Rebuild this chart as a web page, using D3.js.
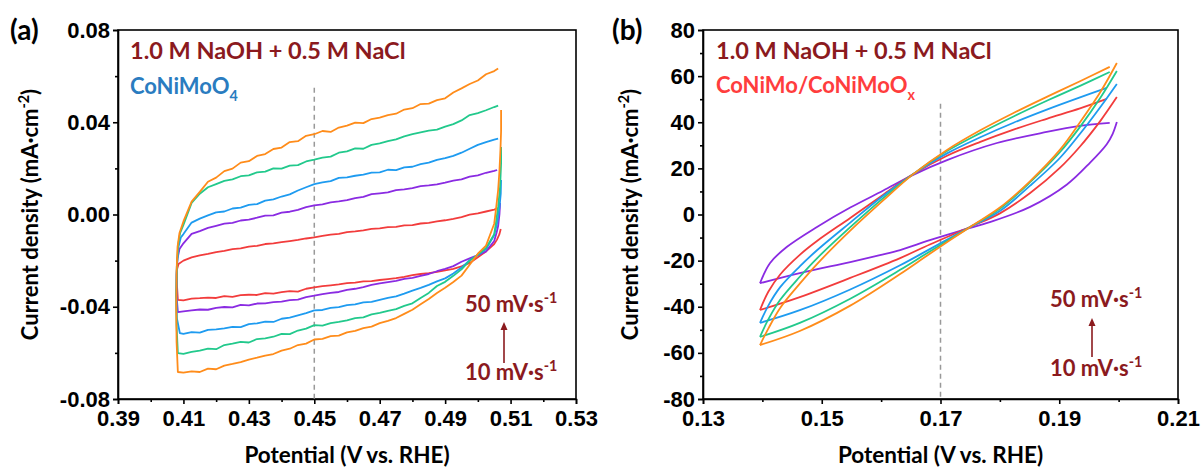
<!DOCTYPE html>
<html lang="en">
<head>
<meta charset="UTF-8">
<title>CV curves</title>
<script src="https://cdn.jsdelivr.net/npm/d3@7"></script>
<style>
  body { margin: 0; background: #fff; }
  svg { display: block; }
  .axis path, .axis line { stroke: #000; stroke-width: 1.6; }
  .axis text { font-family: "Liberation Sans", Arial, sans-serif; font-weight: bold; font-size: 22px; fill: #000; }
  .lbl { font-family: Lato, "Open Sans", sans-serif; font-weight: bold; }
</style>
</head>
<body>
<svg id="chart" width="1203" height="470"></svg>
<script>
// ---------- panel (a): CoNiMoO4, scan rates 10..50 mV/s ----------
const ratesA = ["10", "20", "30", "40", "50"];
const colorsA = ["#f23c3c", "#8a2be2", "#1e9bf0", "#22c98c", "#ff8c1a"];

const potA = [0.4100, 0.4125, 0.4150, 0.4175, 0.4200, 0.4225, 0.4250, 0.4275, 0.4300, 0.4325,
  0.4350, 0.4375, 0.4400, 0.4425, 0.4450, 0.4475, 0.4500, 0.4525, 0.4550, 0.4575,
  0.4600, 0.4625, 0.4650, 0.4675, 0.4700, 0.4725, 0.4750, 0.4775, 0.4800, 0.4825,
  0.4850, 0.4875, 0.4900, 0.4925, 0.4950, 0.4975, 0.5000, 0.5025, 0.5050];

// anodic (upper) branch on potA
const upperA = [
  [-0.0200, -0.0186, -0.0177, -0.0171, -0.0163, -0.0158, -0.0150, -0.0147, -0.0139, -0.0136,
   -0.0128, -0.0125, -0.0120, -0.0115, -0.0110, -0.0104, -0.0099, -0.0093, -0.0087, -0.0084,
   -0.0076, -0.0073, -0.0069, -0.0062, -0.0060, -0.0055, -0.0054, -0.0047, -0.0046, -0.0039,
   -0.0036, -0.0030, -0.0025, -0.0019, -0.0011, -0.0001, 0.0005, 0.0013, 0.0021],
  [-0.0125, -0.0084, -0.0072, -0.0058, -0.0049, -0.0040, -0.0036, -0.0026, -0.0022, -0.0014,
   -0.0005, -0.0004, 0.0008, 0.0012, 0.0020, 0.0032, 0.0040, 0.0044, 0.0053, 0.0057,
   0.0062, 0.0071, 0.0076, 0.0088, 0.0092, 0.0096, 0.0106, 0.0109, 0.0114, 0.0123,
   0.0126, 0.0131, 0.0138, 0.0147, 0.0152, 0.0164, 0.0170, 0.0181, 0.0189],
  [-0.0085, -0.0035, -0.0018, -0.0004, 0.0009, 0.0013, 0.0026, 0.0030, 0.0042, 0.0045,
   0.0060, 0.0066, 0.0078, 0.0087, 0.0104, 0.0118, 0.0132, 0.0139, 0.0145, 0.0159,
   0.0161, 0.0168, 0.0173, 0.0182, 0.0183, 0.0194, 0.0192, 0.0204, 0.0207, 0.0218,
   0.0225, 0.0237, 0.0244, 0.0254, 0.0268, 0.0285, 0.0302, 0.0314, 0.0325],
  [-0.0045, 0.0050, 0.0090, 0.0118, 0.0132, 0.0146, 0.0152, 0.0166, 0.0170, 0.0183,
   0.0186, 0.0200, 0.0199, 0.0212, 0.0214, 0.0230, 0.0238, 0.0247, 0.0251, 0.0268,
   0.0274, 0.0287, 0.0285, 0.0302, 0.0308, 0.0318, 0.0326, 0.0339, 0.0348, 0.0356,
   0.0364, 0.0368, 0.0381, 0.0392, 0.0408, 0.0431, 0.0440, 0.0452, 0.0466],
  [-0.0030, 0.0056, 0.0098, 0.0142, 0.0160, 0.0188, 0.0199, 0.0225, 0.0231, 0.0254,
   0.0262, 0.0284, 0.0290, 0.0314, 0.0318, 0.0341, 0.0348, 0.0362, 0.0358, 0.0377,
   0.0385, 0.0398, 0.0396, 0.0414, 0.0420, 0.0431, 0.0437, 0.0455, 0.0461, 0.0479,
   0.0481, 0.0496, 0.0504, 0.0529, 0.0547, 0.0566, 0.0581, 0.0608, 0.0622]
];

// cathodic (lower) branch on potA
const lowerA = [
  [-0.0372, -0.0365, -0.0363, -0.0360, -0.0362, -0.0354, -0.0357, -0.0350, -0.0348, -0.0349,
   -0.0341, -0.0343, -0.0337, -0.0332, -0.0334, -0.0322, -0.0316, -0.0311, -0.0307, -0.0303,
   -0.0298, -0.0295, -0.0290, -0.0289, -0.0284, -0.0280, -0.0276, -0.0270, -0.0263, -0.0258,
   -0.0254, -0.0249, -0.0242, -0.0236, -0.0225, -0.0210, -0.0185, -0.0160, -0.0128],
  [-0.0420, -0.0416, -0.0412, -0.0413, -0.0405, -0.0401, -0.0403, -0.0392, -0.0394, -0.0386,
   -0.0385, -0.0380, -0.0378, -0.0371, -0.0369, -0.0358, -0.0352, -0.0345, -0.0340, -0.0336,
   -0.0327, -0.0322, -0.0315, -0.0305, -0.0299, -0.0293, -0.0288, -0.0279, -0.0275, -0.0266,
   -0.0258, -0.0246, -0.0236, -0.0224, -0.0205, -0.0190, -0.0176, -0.0160, -0.0115],
  [-0.0518, -0.0510, -0.0512, -0.0500, -0.0498, -0.0494, -0.0487, -0.0488, -0.0475, -0.0472,
   -0.0465, -0.0466, -0.0452, -0.0447, -0.0437, -0.0428, -0.0416, -0.0414, -0.0405, -0.0402,
   -0.0393, -0.0390, -0.0381, -0.0379, -0.0370, -0.0362, -0.0355, -0.0343, -0.0330, -0.0318,
   -0.0305, -0.0290, -0.0277, -0.0256, -0.0230, -0.0198, -0.0176, -0.0150, -0.0090],
  [-0.0604, -0.0596, -0.0590, -0.0582, -0.0584, -0.0566, -0.0560, -0.0552, -0.0555, -0.0540,
   -0.0537, -0.0530, -0.0518, -0.0519, -0.0503, -0.0495, -0.0480, -0.0482, -0.0471, -0.0466,
   -0.0459, -0.0449, -0.0446, -0.0433, -0.0427, -0.0418, -0.0410, -0.0396, -0.0385, -0.0362,
   -0.0340, -0.0310, -0.0292, -0.0266, -0.0238, -0.0200, -0.0175, -0.0145, -0.0085],
  [-0.0686, -0.0680, -0.0683, -0.0668, -0.0671, -0.0655, -0.0648, -0.0640, -0.0629, -0.0621,
   -0.0612, -0.0605, -0.0590, -0.0582, -0.0566, -0.0560, -0.0542, -0.0539, -0.0527, -0.0525,
   -0.0511, -0.0505, -0.0493, -0.0486, -0.0471, -0.0461, -0.0449, -0.0431, -0.0413, -0.0389,
   -0.0366, -0.0340, -0.0318, -0.0293, -0.0265, -0.0218, -0.0170, -0.0135, -0.0040]
];

// steep part at the upper potential limit, from the top vertex downwards
const rightA = [
  [[0.5070, -0.0063], [0.5066, -0.0085], [0.5058, -0.0110]],
  [[0.5068, 0.0050], [0.5066, 0.0000], [0.5062, -0.0050], [0.5057, -0.0080]],
  [[0.5071, 0.0150], [0.5070, 0.0090], [0.5066, 0.0030], [0.5060, -0.0030]],
  [[0.5071, 0.0293], [0.5071, 0.0220], [0.5068, 0.0120], [0.5062, 0.0033], [0.5055, -0.0040]],
  [[0.5071, 0.0453], [0.5071, 0.0360], [0.5069, 0.0280], [0.5066, 0.0190], [0.5062, 0.0106], [0.5056, 0.0030]]
];

// steep part at the lower potential limit, from the bottom vertex upwards
const leftA = [
  [[0.4083, -0.0370], [0.4080, -0.0300], [0.4080, -0.0240], [0.4085, -0.0215]],
  [[0.4083, -0.0423], [0.4079, -0.0350], [0.4079, -0.0260], [0.4082, -0.0190], [0.4088, -0.0150]],
  [[0.4089, -0.0514], [0.4080, -0.0450], [0.4078, -0.0350], [0.4080, -0.0220], [0.4085, -0.0140], [0.4092, -0.0100]],
  [[0.4083, -0.0601], [0.4079, -0.0480], [0.4078, -0.0350], [0.4080, -0.0220], [0.4084, -0.0130], [0.4090, -0.0080]],
  [[0.4083, -0.0683], [0.4079, -0.0550], [0.4078, -0.0400], [0.4079, -0.0250], [0.4082, -0.0140], [0.4088, -0.0080]]
];

const endA = [[0.5056, 0.0024], [0.5059, 0.0193], [0.5062, 0.0329], [0.5062, 0.0472], [0.5062, 0.0633]];

// ---------- panel (b): CoNiMo/CoNiMoOx ----------
const colorsB = ["#8a2be2", "#f23c3c", "#1e9bf0", "#22c98c", "#ff8c1a"];

const upperB = [
  [[0.1396, -29.8], [0.1413, -21.0], [0.1441, -14.1], [0.1492, -5.4], [0.1548, 3.0], [0.1603, 10.3], [0.1654, 17.2], [0.1711, 23.6], [0.1795, 31.0], [0.1879, 35.8], [0.1935, 38.4], [0.1985, 39.7]],
  [[0.1396, -41.4], [0.1410, -33.5], [0.1430, -26.0], [0.1463, -17.5], [0.1492, -11.5], [0.1548, -1.5], [0.1603, 8.5], [0.1654, 17.5], [0.1711, 25.5], [0.1767, 31.5], [0.1823, 36.8], [0.1879, 41.5], [0.1935, 46.0], [0.1980, 50.1]],
  [[0.1396, -47.0], [0.1410, -39.5], [0.1430, -31.5], [0.1463, -22.5], [0.1492, -15.5], [0.1548, -3.5], [0.1603, 8.0], [0.1654, 17.5], [0.1711, 26.5], [0.1767, 33.5], [0.1823, 39.8], [0.1879, 45.5], [0.1935, 50.8], [0.1980, 54.9]],
  [[0.1396, -53.1], [0.1410, -45.5], [0.1430, -37.0], [0.1463, -27.0], [0.1492, -19.0], [0.1548, -5.5], [0.1603, 7.0], [0.1654, 17.5], [0.1711, 27.5], [0.1767, 35.3], [0.1823, 42.5], [0.1879, 49.3], [0.1935, 55.8], [0.1985, 61.8]],
  [[0.1396, -56.6], [0.1410, -49.5], [0.1430, -40.5], [0.1463, -30.0], [0.1492, -21.5], [0.1548, -7.0], [0.1603, 6.0], [0.1654, 17.5], [0.1711, 28.0], [0.1767, 36.5], [0.1823, 44.0], [0.1879, 51.0], [0.1935, 57.8], [0.1985, 64.0]]
];

const lowerB = [
  [[0.1396, -29.8], [0.1463, -25.4], [0.1548, -20.6], [0.1598, -17.6], [0.1632, -15.4], [0.1682, -11.1], [0.1738, -6.7], [0.1783, -3.3], [0.1851, 3.3], [0.1913, 13.0], [0.1952, 22.5], [0.1980, 30.5], [0.1990, 35.0], [0.1997, 40.1]],
  [[0.1396, -41.4], [0.1463, -35.8], [0.1548, -27.5], [0.1632, -18.9], [0.1682, -13.0], [0.1750, -5.4], [0.1800, 0.5], [0.1851, 9.3], [0.1901, 20.2], [0.1935, 29.5], [0.1969, 40.5], [0.1997, 50.9]],
  [[0.1396, -47.0], [0.1463, -41.5], [0.1548, -32.5], [0.1632, -22.0], [0.1682, -15.0], [0.1750, -5.4], [0.1800, 1.5], [0.1851, 12.5], [0.1901, 24.5], [0.1935, 35.0], [0.1969, 46.5], [0.1997, 56.6]],
  [[0.1396, -53.1], [0.1463, -47.0], [0.1548, -36.5], [0.1632, -24.0], [0.1682, -16.0], [0.1750, -5.4], [0.1800, 2.5], [0.1851, 14.0], [0.1901, 27.0], [0.1935, 38.0], [0.1969, 50.5], [0.1997, 62.2]],
  [[0.1396, -56.6], [0.1463, -50.5], [0.1548, -39.5], [0.1632, -25.8], [0.1682, -17.0], [0.1750, -5.4], [0.1800, 3.0], [0.1851, 14.5], [0.1901, 28.0], [0.1935, 40.0], [0.1969, 53.0], [0.1997, 65.7]]
];

// ticks
const xTicksA = [0.39, 0.41, 0.43, 0.45, 0.47, 0.49, 0.51, 0.53];
const xMinorA = [0.40, 0.42, 0.44, 0.46, 0.48, 0.50, 0.52];
const yTicksA = [-0.08, -0.04, 0.00, 0.04, 0.08];
const yMinorA = [-0.06, -0.02, 0.02, 0.06];
const xTicksB = [0.13, 0.15, 0.17, 0.19, 0.21];
const xMinorB = [0.14, 0.16, 0.18, 0.20];
const yTicksB = [-80, -60, -40, -20, 0, 20, 40, 60, 80];
const yMinorB = [-70, -50, -30, -10, 10, 30, 50, 70];

const svg = d3.select("#chart");
const darkRed = "#8b1a1e";

const xA = d3.scaleLinear().domain([0.39, 0.53]).range([118, 576]);
const yA = d3.scaleLinear().domain([-0.08, 0.08]).range([399, 30]);
const xB = d3.scaleLinear().domain([0.13, 0.21]).range([703, 1178]);
const yB = d3.scaleLinear().domain([-80, 80]).range([399, 30]);

// text with super/subscript pieces: [text, 1 = sup, -1 = sub, 0 = normal]
function rich(t, parts, size) {
  let cur = 0;
  parts.forEach(([s, k]) => {
    const target = k === 1 ? -0.42 * size : k === -1 ? 0.3 * size : 0;
    t.append("tspan").attr("dy", target - cur)
      .attr("font-size", k ? size * 0.65 : size).text(s);
    cur = target;
  });
  return t;
}

function drawAxes(x, y, xt, xm, yt, ym, fmt, fmtY, titleX) {
  const [xl, xr] = x.range(), [yb, ytop] = y.range();
  const g = svg.append("g");
  g.append("g").attr("class", "axis").attr("transform", `translate(0,${yb})`)
    .call(d3.axisBottom(x).tickValues(xt).tickFormat(fmt).tickSize(5).tickPadding(6));
  g.append("g").attr("class", "axis").attr("transform", `translate(0,${yb})`)
    .call(d3.axisBottom(x).tickValues(xm).tickFormat("").tickSize(3))
    .select(".domain").remove();
  g.append("g").attr("class", "axis").attr("transform", `translate(${xl},0)`)
    .call(d3.axisLeft(y).tickValues(yt).tickFormat(fmtY).tickSize(5).tickPadding(3));
  g.append("g").attr("class", "axis").attr("transform", `translate(${xl},0)`)
    .call(d3.axisLeft(y).tickValues(ym).tickFormat("").tickSize(3))
    .select(".domain").remove();
  g.append("rect").attr("x", xl).attr("y", ytop).attr("width", xr - xl).attr("height", yb - ytop)
    .attr("fill", "none").attr("stroke", "#000").attr("stroke-width", 1.6);

  // axis titles
  const cx = (xl + xr) / 2;
  svg.append("text").attr("class", "lbl").attr("x", cx).attr("y", 463)
    .attr("text-anchor", "middle").attr("font-size", 22.5).text("Potential (V vs. RHE)");
  const title = svg.append("text").attr("class", "lbl").attr("text-anchor", "middle")
    .attr("transform", `translate(${titleX},${(yb + ytop) / 2}) rotate(-90)`);
  rich(title, [["Current density (mA·cm", 0], ["-2", 1], [")", 0]], 22);
}

// ---- panel (a) ----
drawAxes(xA, yA, xTicksA, xMinorA, yTicksA, yMinorA, d => d.toFixed(2), d => d.toFixed(2), 38);

svg.append("line").attr("x1", xA(0.45)).attr("x2", xA(0.45))
  .attr("y1", yA(0.055)).attr("y2", yA(-0.08))
  .attr("stroke", "#999").attr("stroke-width", 1.5).attr("stroke-dasharray", "5,4");

const lineA = d3.line().x(d => xA(d[0])).y(d => yA(d[1]));
ratesA.forEach((r, i) => {
  const lower = potA.map((v, k) => [v, lowerA[i][k]]).reverse();
  const upper = potA.map((v, k) => [v, upperA[i][k]]);
  const pts = [...rightA[i], ...lower, ...leftA[i], ...upper, endA[i]];
  svg.append("path").attr("d", lineA(pts)).attr("fill", "none")
    .attr("stroke", colorsA[i]).attr("stroke-width", 1.8).attr("stroke-linejoin", "round");
});

// ---- panel (b) ----
drawAxes(xB, yB, xTicksB, xMinorB, yTicksB, yMinorB, d => d.toFixed(2), d => d.toFixed(0), 638);

svg.append("line").attr("x1", xB(0.17)).attr("x2", xB(0.17))
  .attr("y1", yB(48)).attr("y2", yB(-80))
  .attr("stroke", "#999").attr("stroke-width", 1.5).attr("stroke-dasharray", "5,4");

const lineB = d3.line().x(d => xB(d[0])).y(d => yB(d[1])).curve(d3.curveCatmullRom);
colorsB.forEach((c, i) => {
  [upperB[i], lowerB[i]].forEach(arc => {
    svg.append("path").attr("d", lineB(arc)).attr("fill", "none")
      .attr("stroke", c).attr("stroke-width", 1.8);
  });
});

// ---- labels ----
[[10, "(a)"], [612, "(b)"]].forEach(([x, s]) => {
  svg.append("text").attr("class", "lbl").attr("x", x).attr("y", 40)
    .attr("font-size", 28).text(s);
});

[130, 716].forEach(x => {
  svg.append("text").attr("class", "lbl").attr("x", x).attr("y", 59)
    .attr("font-size", 23.5).attr("fill", darkRed).text("1.0 M NaOH + 0.5 M NaCl");
});
rich(svg.append("text").attr("class", "lbl").attr("x", 130).attr("y", 94).attr("fill", "#2a7cc0"),
  [["CoNiMoO", 0], ["4", -1]], 22);
rich(svg.append("text").attr("class", "lbl").attr("x", 716).attr("y", 93).attr("fill", "#ff3d3d"),
  [["CoNiMo/CoNiMoO", 0], ["x", -1]], 22);

// scan-rate arrows
[[465, 504, 312, 380, 322, 363], [1050, 1092, 307, 376, 318, 357]].forEach(([tx, ax, y50, y10, top, bot]) => {
  rich(svg.append("text").attr("class", "lbl").attr("x", tx).attr("y", y50).attr("fill", darkRed),
    [["50 mV·s", 0], ["-1", 1]], 22);
  rich(svg.append("text").attr("class", "lbl").attr("x", tx).attr("y", y10).attr("fill", darkRed),
    [["10 mV·s", 0], ["-1", 1]], 22);
  svg.append("line").attr("x1", ax).attr("x2", ax).attr("y1", bot).attr("y2", top + 7)
    .attr("stroke", darkRed).attr("stroke-width", 1.6);
  svg.append("path").attr("d", `M${ax},${top} L${ax - 3.5},${top + 8} L${ax + 3.5},${top + 8} Z`)
    .attr("fill", darkRed);
});
</script>
</body>
</html>
